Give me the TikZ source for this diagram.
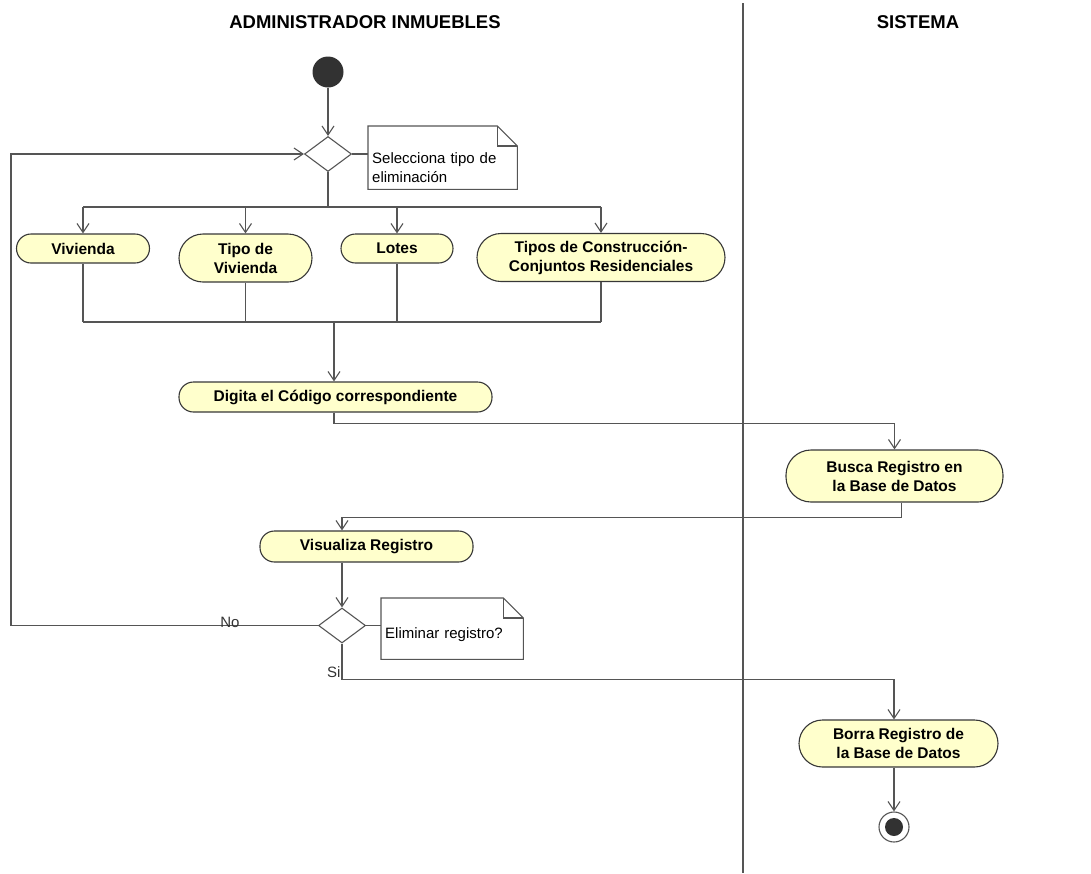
\documentclass[tikz,border=0pt]{standalone}
\usepackage{fontspec}
\setmainfont{Liberation Sans}
\usetikzlibrary{shapes.geometric,arrows.meta,positioning,calc}
\definecolor{LineaGris}{RGB}{85,85,85}
\definecolor{BordeGris}{RGB}{55,55,55}
\definecolor{AccionFill}{RGB}{255,255,204}
\definecolor{InicioGris}{RGB}{50,50,50}
% hoja de nota con esquina doblada
\newcommand{\notaDoblez}[1]{%
  \draw[linea](#1.north west)--([xshift=-20pt]#1.north east)--([yshift=-20pt]#1.north east)
    --(#1.south east)--(#1.south west)--cycle;
  \draw[linea]([xshift=-20pt]#1.north east)|-([yshift=-20pt]#1.north east);}

\begin{document}
\begin{tikzpicture}[x=1pt,y=-1pt,
  linea/.style={LineaGris,line width=1.1pt},
  flecha/.style={linea,-{Straight Barb[length=9pt,width=12pt]}},
  accion/.style={draw=BordeGris,fill=AccionFill,line width=1.1pt,rounded corners=#1,
    inner sep=0pt,align=center,font=\fontsize{15.5}{19}\selectfont\bfseries},
  accion/.default=14.5pt,
  decision/.style={diamond,draw=LineaGris,line width=1.1pt,minimum width=47pt,
    minimum height=35pt,inner sep=0pt},
  notatxt/.style={align=left,inner xsep=4pt,inner ysep=0pt,anchor=north west,
    font=\fontsize{15}{19.5}\selectfont},
  etiqueta/.style={font=\fontsize{15}{17}\selectfont,text=black!80,inner sep=1pt},
  carril/.style={font=\fontsize{18.5}{20}\selectfont\bfseries}]
\useasboundingbox(0,0)rectangle(1091,873);
% carriles
\node[carril](admin)at(365,22){ADMINISTRADOR INMUEBLES};
\node[carril](sistema)at(918,22){SISTEMA};
\draw[linea](743,3)--(743,873);
% inicio y primera decision
\node[circle,fill=InicioGris,minimum size=31pt,inner sep=0pt](inicio)at(328,72){};
\node[decision](dec1)at(328,154){};
\draw[flecha](inicio)--(dec1);
\node[notatxt,text width=141pt,text height=37pt,text depth=26pt](nota1)at(368,126)
  {Selecciona tipo de\\eliminación};
\notaDoblez{nota1}
\draw[linea](dec1.east)--(nota1.west|-dec1.east);
% tipos de eliminacion
\node[accion,minimum width=133pt,minimum height=29pt](viv)at(83,248.5){Vivienda};
\node[accion=24pt,minimum width=133pt,minimum height=48pt](tipoviv)at(245.5,258){Tipo de\\Vivienda};
\node[accion,minimum width=112pt,minimum height=29pt](lotes)at(397,248.5){Lotes};
\node[accion=24pt,minimum width=248pt,minimum height=48pt](tiposcons)at(601,257.5)
  {Tipos de Construcción-\\Conjuntos Residenciales};
\coordinate(rama)at(328,207);
\coordinate(union)at(334,322);
\draw[linea](dec1.south)--(rama);
\draw[linea](viv.north|-rama)--(tiposcons.north|-rama);
\foreach \n in {viv,tipoviv,lotes,tiposcons}{
  \draw[flecha](\n.north|-rama)--(\n.north);
  \draw[linea](\n.south)--(\n.south|-union);
}
\draw[linea](viv.south|-union)--(tiposcons.south|-union);
% codigo y busqueda
\node[accion,minimum width=313pt,minimum height=30pt](digita)at(335.5,397){Digita el Código correspondiente};
\draw[flecha](union)--(union|-digita.north);
\node[accion=25pt,minimum width=217pt,minimum height=52pt](busca)at(894.5,476){Busca Registro en\\la Base de Datos};
\draw[flecha]([xshift=-1.5pt]digita.south)--++(0,11)-|(busca.north);
\node[accion,minimum width=213pt,minimum height=31pt](visual)at(366.5,546.5){Visualiza Registro};
\draw[flecha]([xshift=7pt]busca.south)--++(0,15)-|([xshift=-24.5pt]visual.north);
% segunda decision
\node[decision](dec2)at(342,625.5){};
\draw[flecha]([xshift=-24.5pt]visual.south)--(dec2.north);
\node[notatxt,text width=134pt,text height=40pt,text depth=21pt](nota2)at(381,598){Eliminar registro?};
\notaDoblez{nota2}
\draw[linea](dec2.east)--(nota2.west|-dec2.east);
\coordinate(retorno)at(11,625.5);
\draw[flecha](dec2.west)--node[etiqueta,pos=0.287,yshift=3pt](no){No}(retorno)|-(dec1.west);
% borrado y fin
\node[accion=23.5pt,minimum width=199pt,minimum height=47pt](borra)at(898.5,743.5){Borra Registro de\\la Base de Datos};
\draw[flecha](dec2.south)--++(0,36)node[etiqueta,anchor=south east](si){Si}-|([xshift=-4.5pt]borra.north);
\node[circle,draw=LineaGris,line width=1.1pt,minimum size=30pt,inner sep=0pt,
  path picture={\fill[InicioGris](path picture bounding box.center)circle(9pt);}](fin)at(894,827){};
\draw[flecha]([xshift=-4.5pt]borra.south)--(fin.north);
\end{tikzpicture}
\end{document}
